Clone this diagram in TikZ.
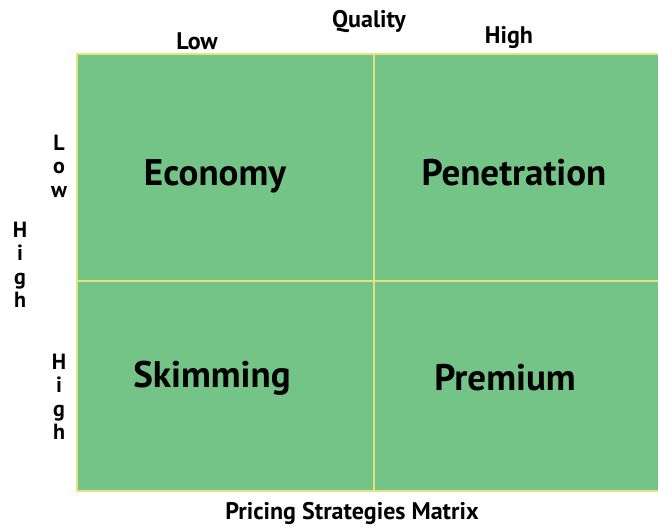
\documentclass[tikz,border=0pt]{standalone}
\usepackage{fontspec}
\setmainfont{PT Sans}
\definecolor{cellgreen}{HTML}{74C487}
\definecolor{lineyellow}{HTML}{E4E47E}
\begin{document}
\begin{tikzpicture}[x=1pt,y=-1pt,
  cell/.style={fill=cellgreen,draw=lineyellow,line width=2.5pt},
  big/.style={font=\bfseries\fontsize{37}{37}\selectfont,inner sep=0pt},
  axis/.style={font=\bfseries\fontsize{24}{24}\selectfont,inner sep=0pt},
  stack/.style={font=\bfseries\fontsize{22}{23.5}\selectfont,align=center,inner sep=0pt}]
\useasboundingbox (0,0) rectangle (658,527);
\path[cell] (77,54) rectangle (374,281);
\path[cell] (374,54) rectangle (662,281);
\path[cell] (77,281) rectangle (374,491);
\path[cell] (374,281) rectangle (662,491);
\node[big] (economy) at (215,176) {Economy};
\node[big] (penetration) at (514,173) {Penetration};
\node[big] (skimming) at (212,378) {Skimming};
\node[big] (premium) at (505,378) {Premium};
\node[axis] (quality) at (369,22) {Quality};
\node[axis] (qlow) at (197,41) {Low};
\node[axis] (qhigh) at (509,38) {High};
\node[stack] (plow) at (59,166) {L\\o\\w};
\node[stack] (price) at (20,265) {H\\i\\g\\h};
\node[stack] (phigh) at (59,397) {H\\i\\g\\h};
\node[axis] (title) at (352,513) {Pricing Strategies Matrix};
\end{tikzpicture}
\end{document}
